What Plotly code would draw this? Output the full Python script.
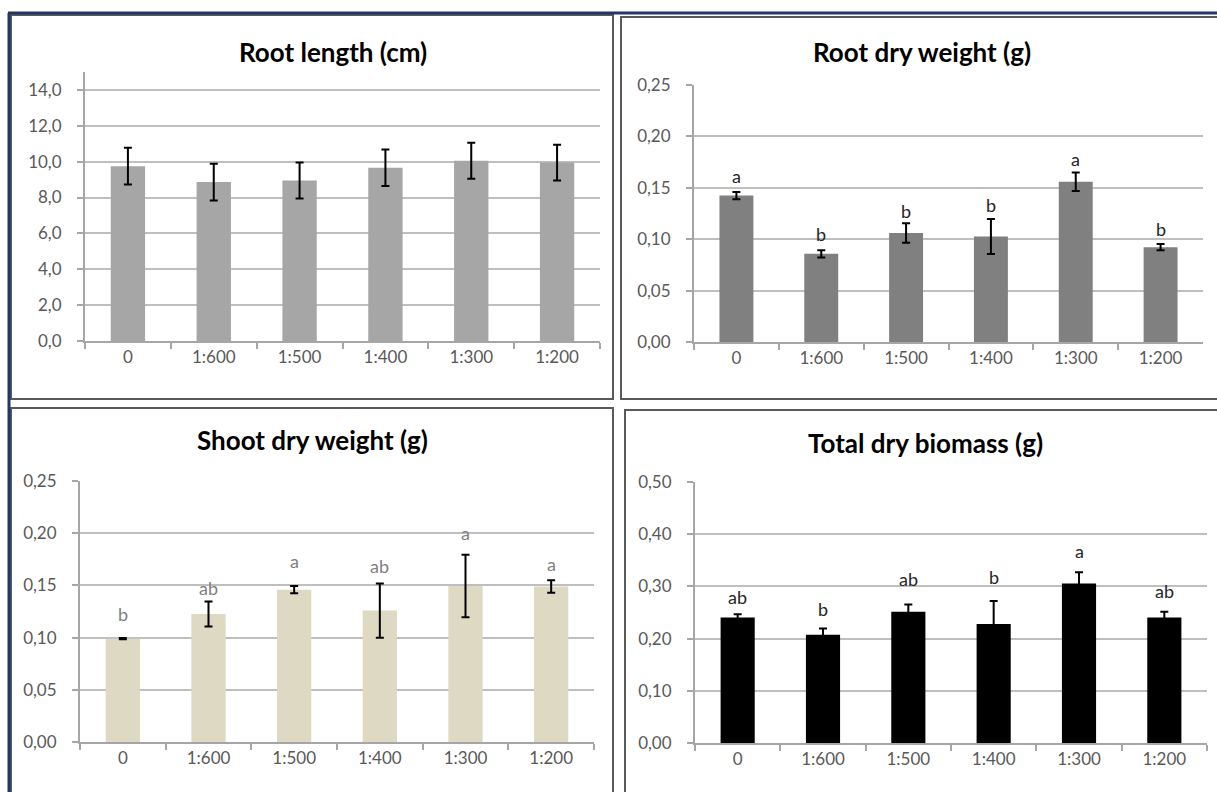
import plotly.graph_objects as go
from plotly.subplots import make_subplots

W, H = 1217, 792

categories = ["0", "1:600", "1:500", "1:400", "1:300", "1:200"]

root_length = [9.75, 8.86, 8.95, 9.66, 10.05, 9.95]
root_length_err = [1.02, 1.03, 1.0, 1.02, 1.0, 1.0]

root_dw = [0.1425, 0.0858, 0.106, 0.1027, 0.156, 0.0923]
root_dw_err = [0.0035, 0.0035, 0.0095, 0.017, 0.009, 0.003]
root_dw_letters = ["a", "b", "b", "b", "a", "b"]
root_dw_letter_y = [0.162, 0.105, 0.1276, 0.133, 0.178, 0.110]

shoot_dw = [0.099, 0.1226, 0.146, 0.126, 0.1495, 0.149]
shoot_dw_err = [0.0006, 0.012, 0.0035, 0.026, 0.030, 0.006]
shoot_dw_letters = ["b", "ab", "a", "ab", "a", "a"]
shoot_dw_letter_y = [0.123, 0.148, 0.173, 0.169, 0.2005, 0.171]

total_dw = [0.2407, 0.2074, 0.2516, 0.228, 0.3054, 0.2407]
total_dw_err = [0.006, 0.012, 0.014, 0.044, 0.022, 0.011]
total_dw_letters = ["ab", "b", "ab", "b", "a", "ab"]
total_dw_letter_y = [0.280, 0.256, 0.315, 0.319, 0.368, 0.292]

titles = ["Root length (cm)", "Root dry weight (g)", "Shoot dry weight (g)", "Total dry biomass (g)"]

FONT = "Lato"
TICKC = "#595959"
GRID = "#BFBFBF"
AXIS = "#A6A6A6"


def px(x):
    return x / W


def py(y):
    return 1 - y / H


fig = make_subplots(rows=2, cols=2)

panels = [
    dict(vals=root_length, err=root_length_err, color="#A6A6A6", row=1, col=1,
         xdom=[85, 600], ydom=[341, 72], rng=[0, 15], dtick=2, fmt=".1f"),
    dict(vals=root_dw, err=root_dw_err, color="#808080", row=1, col=2,
         xdom=[694, 1203], ydom=[342, 85], rng=[0, 0.2501], dtick=0.05, fmt=".2f"),
    dict(vals=shoot_dw, err=shoot_dw_err, color="#DDD9C3", row=2, col=1,
         xdom=[80, 594], ydom=[742, 481], rng=[0, 0.2501], dtick=0.05, fmt=".2f"),
    dict(vals=total_dw, err=total_dw_err, color="#000000", row=2, col=2,
         xdom=[695, 1207], ydom=[743, 482], rng=[0, 0.5001], dtick=0.1, fmt=".2f"),
]

for i, p in enumerate(panels):
    fig.add_trace(
        go.Bar(
            x=categories, y=p["vals"], marker=dict(color=p["color"], line=dict(width=0)),
            error_y=dict(type="data", array=p["err"], visible=True, color="#000000",
                         thickness=2, width=4),
            showlegend=False, hoverinfo="skip",
        ),
        row=p["row"], col=p["col"],
    )
    xa = "xaxis" if i == 0 else f"xaxis{i+1}"
    ya = "yaxis" if i == 0 else f"yaxis{i+1}"
    fig.layout[xa].update(
        domain=[px(p["xdom"][0]), px(p["xdom"][1])], automargin=False,
        type="category", showline=True, linecolor=AXIS, linewidth=2,
        ticks="outside", tickson="boundaries", ticklen=6, tickwidth=2, tickcolor=AXIS,
        showgrid=False, zeroline=False,
        tickfont=dict(family=FONT, size=17, color=TICKC),
    )
    fig.layout[ya].update(
        domain=[py(p["ydom"][0]), py(p["ydom"][1])], automargin=False,
        range=p["rng"], dtick=p["dtick"], tick0=0, tickformat=p["fmt"],
        showline=True, linecolor=AXIS, linewidth=2,
        ticks="outside", ticklen=6, tickwidth=2, tickcolor=AXIS,
        showgrid=True, gridcolor=GRID, gridwidth=2, zeroline=False,
        tickfont=dict(family=FONT, size=17, color=TICKC),
        ticklabelstandoff=12,
    )

annotations = []
title_pos = [(333, 52), (922, 52), (312, 440), (925, 443)]
for t, (tx, ty) in zip(titles, title_pos):
    annotations.append(dict(text=f"<b>{t}</b>", x=px(tx), y=py(ty), xref="paper", yref="paper",
                            showarrow=False, xanchor="center", yanchor="middle",
                            font=dict(family=FONT, size=26, color="#000000")))

letter_sets = [
    (root_dw_letters, root_dw_letter_y, "x2", "y2", "#262626"),
    (shoot_dw_letters, shoot_dw_letter_y, "x3", "y3", "#7F7F7F"),
    (total_dw_letters, total_dw_letter_y, "x4", "y4", "#262626"),
]
for letters, ys, xr, yr, col in letter_sets:
    for c, l, yv in zip(categories, letters, ys):
        annotations.append(dict(text=l, x=c, y=yv, xref=xr, yref=yr, showarrow=False,
                                xanchor="center", yanchor="middle",
                                font=dict(family=FONT, size=18, color=col)))

shapes = []
# panel borders
for (x0, y0, x1, y1) in [(11, 15, 613, 399), (621, 17, 1222, 399),
                         (11, 408, 613, 800), (625, 410, 1222, 800)]:
    shapes.append(dict(type="rect", xref="paper", yref="paper",
                       x0=px(x0), x1=px(x1), y0=py(y1), y1=py(y0),
                       line=dict(color="#5A5A5A", width=2), fillcolor="rgba(0,0,0,0)", layer="below"))
# outer navy frame
shapes.append(dict(type="line", xref="paper", yref="paper", x0=px(8), x1=px(1217),
                   y0=py(13), y1=py(13), line=dict(color="#1F3864", width=3)))
shapes.append(dict(type="line", xref="paper", yref="paper", x0=px(9), x1=px(9),
                   y0=py(13), y1=py(792), line=dict(color="#1F3864", width=3)))

fig.update_layout(
    width=W, height=H, margin=dict(l=0, r=0, t=0, b=0, pad=0, autoexpand=False),
    paper_bgcolor="white", plot_bgcolor="rgba(0,0,0,0)",
    bargap=0.6, separators=", ",
    annotations=annotations, shapes=shapes,
    font=dict(family=FONT),
)

post = ("document.body.style.margin='0';document.body.style.padding='0';"
        "document.body.style.overflow='hidden';"
        "var d=document.getElementById('{plot_id}');"
        "var p=d.parentElement; p.style.margin='0'; p.style.padding='0';"
        "d.style.position='fixed'; d.style.left='0px'; d.style.top='0px';")

fig.write_html("out.html", post_script=post, config={"displayModeBar": False})
